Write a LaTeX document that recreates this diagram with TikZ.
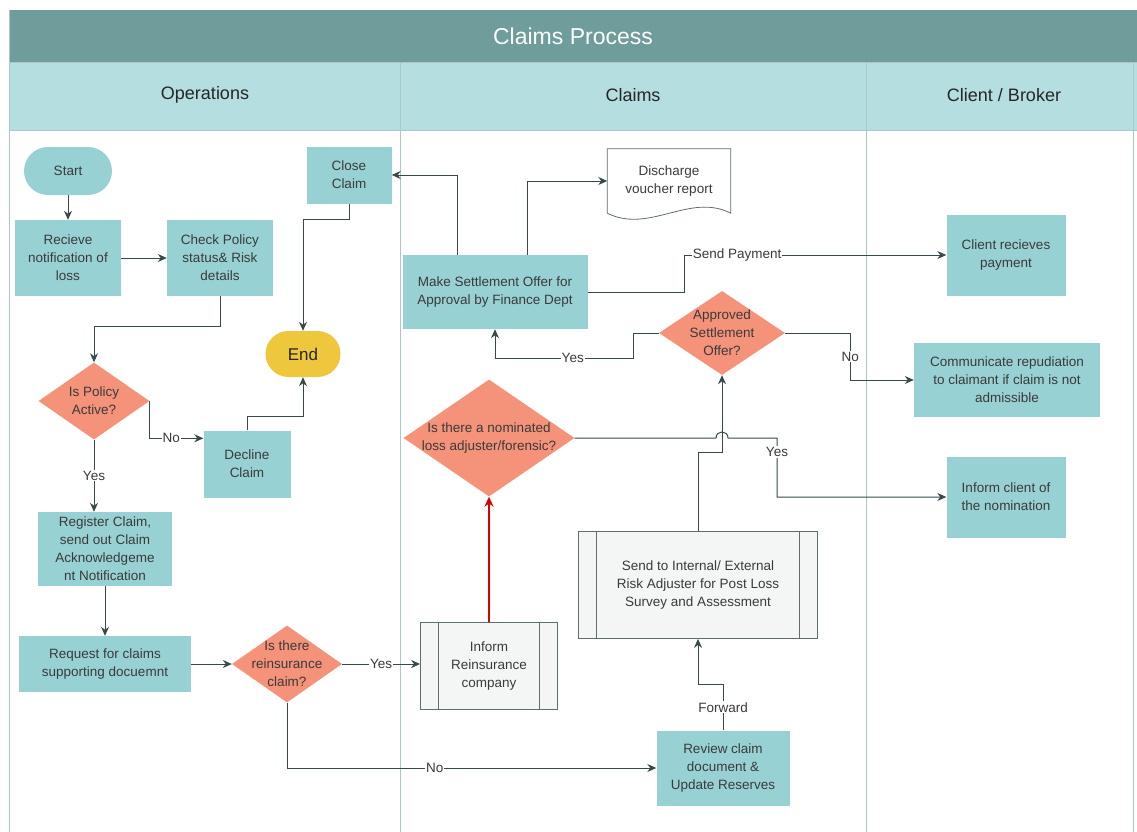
\documentclass[tikz,border=0pt]{standalone}
\usepackage{fontspec}
\setmainfont{Liberation Sans}
\usetikzlibrary{shapes,arrows.meta,calc}
\definecolor{titlebar}{HTML}{6E9D9C}
\definecolor{lanehead}{HTML}{B4DEDF}
\definecolor{laneline}{HTML}{A8C8CA}
\definecolor{boxfill}{HTML}{98D1D4}
\definecolor{decfill}{HTML}{F4937A}
\definecolor{endfill}{HTML}{EFC73C}
\definecolor{procfill}{HTML}{F4F6F6}
\definecolor{flow}{HTML}{36494B}
\definecolor{txt}{HTML}{3A3A3A}

\begin{document}
\begin{tikzpicture}[x=1pt,y=-1pt]
  \tikzstyle{txtfont}=[font=\fontsize{13.5}{18}\selectfont,text=txt]
  \tikzstyle{task}=[rectangle,fill=boxfill,txtfont,align=center,inner sep=2pt]
  \tikzstyle{term}=[task,rounded corners=23pt]
  \tikzstyle{dec}=[diamond,fill=decfill,inner sep=0pt]
  \tikzstyle{dectext}=[txtfont,align=center,inner sep=0pt]
  \tikzstyle{subproc}=[rectangle,draw=flow!80,fill=procfill,txtfont,align=center,line width=0.8pt,
    path picture={\draw[flow!80,line width=0.8pt]
      ([xshift=18pt]path picture bounding box.north west) -- ([xshift=18pt]path picture bounding box.south west)
      ([xshift=-18pt]path picture bounding box.north east) -- ([xshift=-18pt]path picture bounding box.south east);}]
  \tikzstyle{flowline}=[draw=flow,line width=1pt]
  \tikzstyle{arr}=[flowline,-{Stealth[length=9pt,width=8pt]}]
  \tikzstyle{lbl}=[txtfont,fill=white,inner sep=1pt]
  \tikzstyle{lanefont}=[font=\fontsize{18}{20}\selectfont,text=black!85]

  % swimlanes
  \useasboundingbox (0,0) rectangle (1137,832);
  \fill[titlebar] (9,10) rectangle (1137,62);
  \fill[lanehead] (9,62) rectangle (1137,130);
  \draw[laneline] (9,10) -- (9,832) (9,62) -- (1137,62) (9,130) -- (1137,130)
    (400,62) -- (400,832) (866,62) -- (866,832) (1133,62) -- (1133,832);
  \node[font=\fontsize{23}{26}\selectfont,text=white] (title) at (573,36) {Claims Process};
  \node[lanefont] (lop) at (205,95) {Operations};
  \node[lanefont] (lcl) at (633,95) {Claims};
  \node[lanefont] (lcb) at (1004,95) {Client / Broker};

  % operations
  \node[term,minimum width=88,minimum height=48,rounded corners=24pt] (start) at (68,171) {Start};
  \node[task,minimum width=106,minimum height=76] (rec) at (68,258) {Recieve\\notification of\\loss};
  \node[task,minimum width=106,minimum height=76] (chk) at (220,258) {Check Policy\\status\& Risk\\details};
  \node[task,minimum width=85,minimum height=57] (close) at (349,175) {Close\\Claim};
  \node[term,fill=endfill,minimum width=75,minimum height=46,font=\fontsize{17}{18}\selectfont,text=black!85] (endn) at (303,354) {End};
  \node[dec,minimum width=111,minimum height=77] (pa) at (94,401) {};
  \node[dectext] (pa-t) at (pa) {Is Policy\\Active?};
  \node[task,minimum width=87,minimum height=67] (dcl) at (247,464) {Decline\\Claim};
  \node[task,minimum width=134,minimum height=74] (reg) at (105,549) {Register Claim,\\send out Claim\\Acknowledgeme\\nt Notification};
  \node[task,minimum width=172,minimum height=56] (req) at (105,664) {Request for claims\\supporting docuemnt};
  \node[dec,minimum width=110,minimum height=77] (ri) at (287,664) {};
  \node[dectext] (ri-t) at (ri) {Is there\\reinsurance\\claim?};

  % claims
  \node[subproc,minimum width=137,minimum height=87] (inf) at (489,666) {Inform\\Reinsurance\\company};
  \node[dec,minimum width=171,minimum height=117] (nom) at (489,438) {};
  \node[dectext] (nom-t) at (nom) {Is there a nominated\\loss adjuster/forensic?};
  \node[task,minimum width=185,minimum height=74] (mso) at (495,292) {Make Settlement Offer for\\Approval by Finance Dept};
  \node[txtfont,align=center,minimum width=123,minimum height=64,inner sep=0pt] (dvr) at (669,181) {Discharge\\voucher report};
  \draw[draw=flow!80,line width=0.8pt] (dvr.south west) -- (dvr.north west) -- (dvr.north east) -- (dvr.south east)
    .. controls +(-41,-21) and +(42,21) .. (dvr.south west);
  \node[dec,minimum width=126,minimum height=84] (aso) at (722,333) {};
  \node[dectext] (aso-t) at (aso) {Approved\\Settlement\\Offer?};
  \node[subproc,minimum width=239,minimum height=107] (snd) at (698,585) {Send to Internal/ External\\Risk Adjuster for Post Loss\\Survey and Assessment};
  \node[task,minimum width=133,minimum height=75] (rev) at (723,768) {Review claim\\document \&\\Update Reserves};

  % client / broker
  \node[task,minimum width=119,minimum height=81] (crp) at (1006,255) {Client recieves\\payment};
  \node[task,minimum width=186,minimum height=74] (com) at (1007,380) {Communicate repudiation\\to claimant if claim is not\\admissible};
  \node[task,minimum width=119,minimum height=81] (icn) at (1006,497) {Inform client of\\the nomination};

  % connectors
  \draw[arr] (start) -- (rec);
  \draw[arr] (rec) -- (chk);
  \draw[arr] (chk.south) -- ++(0,30) -| (pa.north);
  \draw[arr] (pa.east) |- node[lbl,pos=0.7] (no1) {No} ([yshift=-8pt]dcl.north west);
  \draw[arr] (dcl.north) -- ++(0,-14) -| (endn.south);
  \draw[arr] (close.south) -- ++(0,16) -| (endn.north);
  \draw[arr] (pa.south) -- node[lbl] (yes1) {Yes} (pa.south |- reg.north);
  \draw[arr] (reg.south -| req.north) -- (req.north);
  \draw[arr] (req) -- (ri);
  \draw[arr] (ri.east) -- node[lbl] (yes2) {Yes} (ri.east -| inf.west);
  \draw[arr] (ri.south) |- node[lbl,pos=0.7] (no2) {No} (rev.west);
  \draw[draw=red!85!black,line width=2pt,-{Stealth[length=10pt,width=9pt]}] (inf.north) -- (nom.south);
  \draw[arr] (rev.north) -- node[lbl] (fwd) {Forward} ++(0,-46) -| (snd.south);
  \draw[arr] (snd.north) -- ++(0,-79) -| (aso.south);
  \coordinate (yk) at (777,438);
  \draw[arr] (nom.east) -- ([xshift=-6pt]aso.south |- nom.east)
    .. controls +(0,-8) and +(0,-8) .. ([xshift=6pt]aso.south |- nom.east) -- (yk)
    |- node[lbl,pos=0.12] (yes3) {Yes} (icn.west);
  \draw[arr] (aso.west) -- ++(-25,0) -- ++(0,25) -| node[lbl,pos=0.22] (yes4) {Yes} (mso.south);
  \draw[arr] (aso.east) -- ++(65,0) |- node[lbl,pos=0.25] (no3) {No} (com.west);
  \draw[arr] ([xshift=-38pt]mso.north) |- (close.east);
  \draw[arr] ([xshift=32pt]mso.north) |- (dvr.west);
  \draw[arr] (mso.east) -- ++(97,0) |- node[lbl,pos=0.6] (pay) {Send Payment} (crp.west);
\end{tikzpicture}
\end{document}
